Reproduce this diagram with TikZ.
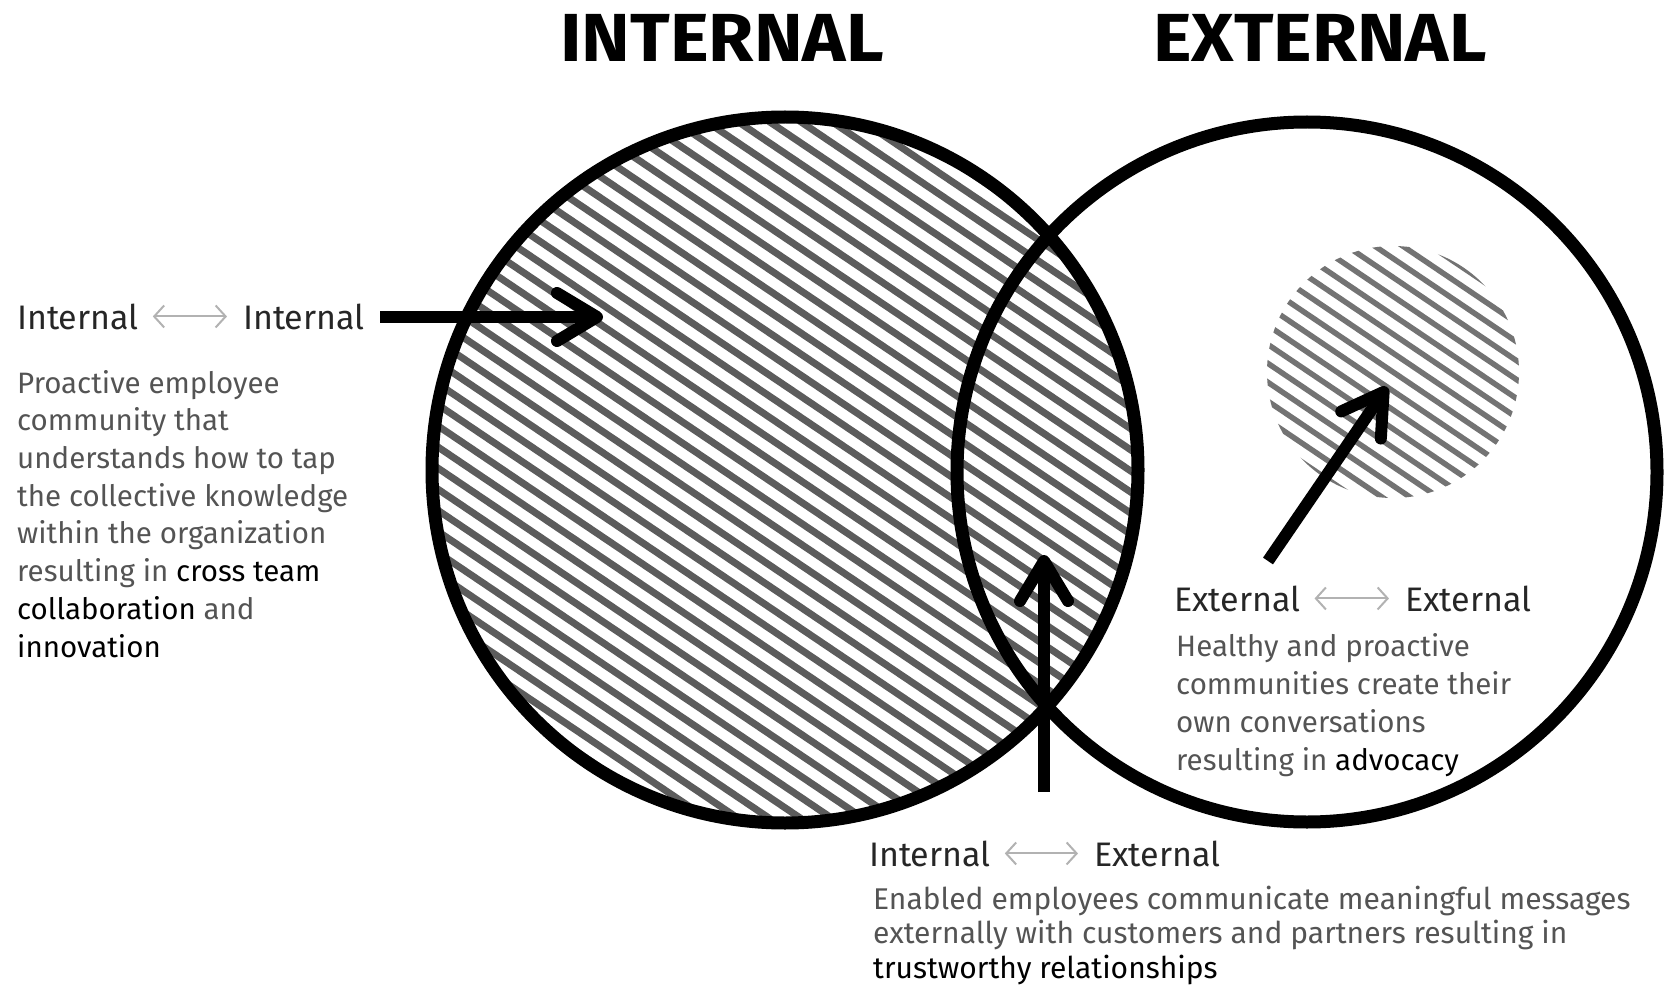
\documentclass[tikz,border=0pt]{standalone}
\usepackage{fontspec}
\setmainfont{Fira Sans}
\usetikzlibrary{arrows.meta}
\definecolor{txt}{gray}{0.33}
\definecolor{hatchA}{gray}{0.36}
\definecolor{hatchB}{gray}{0.45}
\definecolor{dblc}{gray}{0.7}
\newcommand\emphblk[1]{\textcolor{black}{#1}}
\begin{document}
\begin{tikzpicture}[x=1pt,y=-1pt,
  ring/.style={draw=black,line width=13pt},
  hatchline/.style={draw=hatchA,line width=7pt},
  hatchsmall/.style={draw=hatchB,line width=5.5pt},
  bigarrow/.style={line width=12pt,-{Straight Barb[length=40pt,width=48pt,round]}},
  dblarrow/.style={draw=dblc,line width=2pt,{Straight Barb[length=10pt,width=22pt]}-{Straight Barb[length=10pt,width=22pt]}},
  title/.style={font=\fontsize{68}{80}\selectfont\bfseries, inner sep=0pt, anchor=base},
  head/.style={font=\fontsize{34}{40}\selectfont, text=black!85, inner sep=0pt, anchor=base west},
  body/.style={text=txt, inner sep=0pt, anchor=base west, align=left},
]
\useasboundingbox (0,0) rectangle (1666,987);
% hatching, large circle
\begin{scope}
  \clip (785,470) circle (352pt);
  \begin{scope}[shift={(785,470)}, rotate=-34]
    \foreach \k in {-22,...,22} \draw[hatchline] (-420,\k*17.5) -- (420,\k*17.5);
  \end{scope}
\end{scope}
% hatching, small circle
\begin{scope}
  \clip (1393,372) circle (126pt);
  \begin{scope}[shift={(1393,372)}, rotate=-34]
    \foreach \k in {-10,...,10} \draw[hatchsmall] (-150,\k*15.7) -- (150,\k*15.7);
  \end{scope}
\end{scope}
% circles
\draw[ring] (785,470) circle (353pt);
\draw[ring] (1307,472) circle (350pt);
% titles
\node[title] (tin) at (722,62) {\scalebox{1.08}[1]{INTERNAL}};
\node[title] (tex) at (1320,62) {\scalebox{1.075}[1]{EXTERNAL}};
% left label
\node[head] (l1) at (17,329) {Internal};
\node[head] (l2) at (243,329) {Internal};
\draw[dblarrow, shorten <=14pt, shorten >=16pt] (l1.east) -- (l2.west);
\node[body, font=\fontsize{29.5}{37.7}\selectfont] (lp) at (17,657) {Proactive employee\\
community that\\
understands how to tap\\
the collective knowledge\\
within the organization\\
resulting in \emphblk{cross team}\\
\emphblk{collaboration} and\\
\emphblk{innovation}};
% right label
\node[head] (r1) at (1174,611) {External};
\node[head] (r2) at (1405,611) {External};
\draw[dblarrow, shorten <=14pt, shorten >=16pt] (r1.east) -- (r2.west);
\node[body, font=\fontsize{29.5}{38}\selectfont] (rp) at (1176,770) {Healthy and proactive\\
communities create their\\
own conversations\\
resulting in \emphblk{advocacy}};
% bottom label
\node[head] (b1) at (869,866) {Internal};
\node[head] (b2) at (1094,866) {External};
\draw[dblarrow, shorten <=14pt, shorten >=16pt] (b1.east) -- (b2.west);
\node[body, font=\fontsize{30}{34.5}\selectfont] (bp) at (873,978) {Enabled employees communicate meaningful messages\\
externally with customers and partners resulting in\\
\emphblk{trustworthy relationships}};
% arrows
\coordinate (la1) at (380,317);
\coordinate (la2) at (603,317);
\coordinate (ba1) at (1044,792);
\coordinate (ba2) at (1044,555);
\coordinate (ra1) at (1268,561);
\coordinate (ra2) at (1387,387);
\draw[bigarrow] (la1) -- (la2);
\draw[bigarrow] (ba1) -- (ba2);
\draw[bigarrow] (ra1) -- (ra2);
\end{tikzpicture}
\end{document}
